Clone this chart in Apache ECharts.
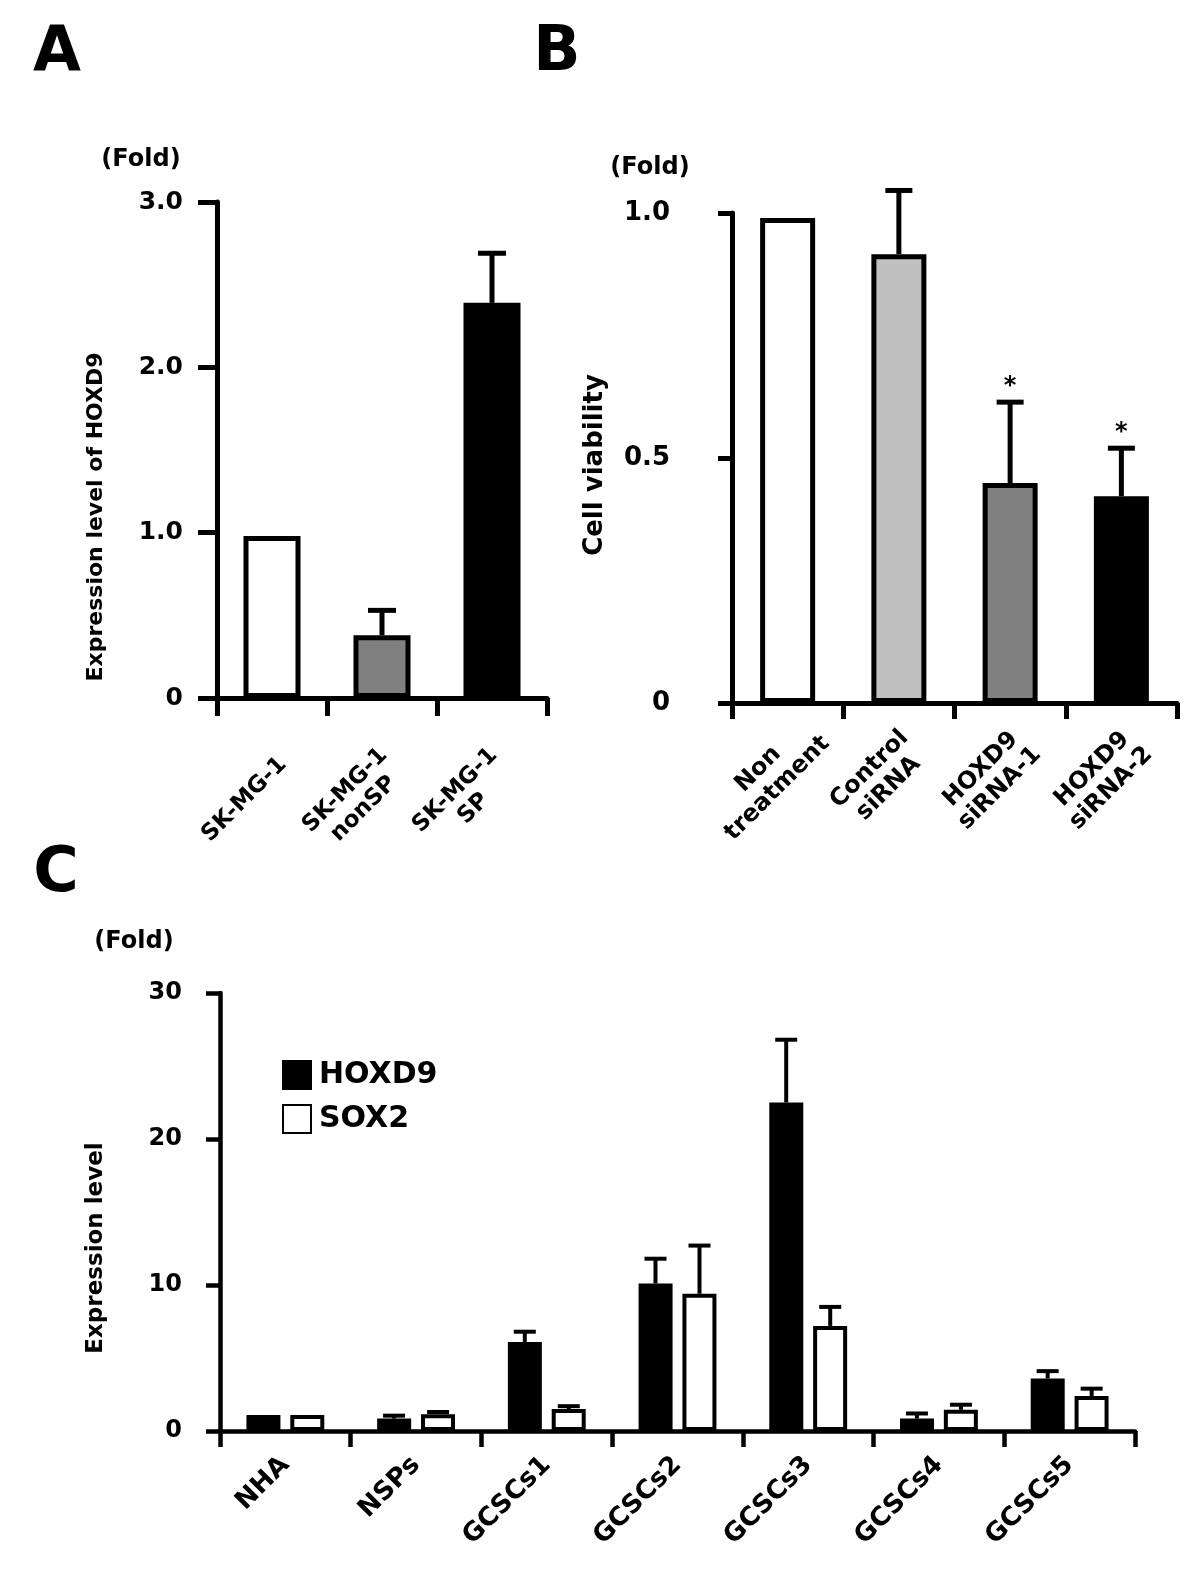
<!DOCTYPE html>
<html>
<head>
<meta charset="utf-8">
<script src="https://cdn.jsdelivr.net/npm/echarts@6/dist/echarts.min.js"></script>
<style>
  html, body { margin: 0; padding: 0; background: #fff; }
  #chart { width: 1200px; height: 1581px; }
</style>
</head>
<body>
<div id="chart"></div>
<script>
// Panel A
const catsA = ['SK-MG-1', 'SK-MG-1\nnonSP', 'SK-MG-1\nSP'];
const valsA = [0.98, 0.38, 2.39];
const errA = [0, 0.15, 0.30];
const colorsA = ['#ffffff', '#808080', '#000000'];
const ticksA = ['0', '1.0', '2.0', '3.0'];

// Panel B
const catsB = ['Non\ntreatment', 'Control\nsiRNA', 'HOXD9\nsiRNA-1', 'HOXD9\nsiRNA-2'];
const valsB = [0.99, 0.916, 0.449, 0.422];
const errB = [0, 0.13, 0.165, 0.098];
const colorsB = ['#ffffff', '#c0c0c0', '#808080', '#000000'];
const sigB = ['', '', '*', '*'];
const ticksB = ['0', '0.5', '1.0'];

// Panel C
const catsC = ['NHA', 'NSPs', 'GCSCs1', 'GCSCs2', 'GCSCs3', 'GCSCs4', 'GCSCs5'];
const hoxd9 = [1.1, 0.85, 6.1, 10.1, 22.5, 0.85, 3.6];
const hoxd9Sd = [0, 0.2, 0.7, 1.7, 4.3, 0.35, 0.5];
const sox2 = [1.1, 1.15, 1.5, 9.4, 7.2, 1.45, 2.4];
const sox2Sd = [0, 0.15, 0.2, 3.3, 1.3, 0.35, 0.5];
const ticksC = ['0', '10', '20', '30'];

const FONT = 'DejaVu Sans';

function errSeries(axis, vals, errs, opts) {
  const data = [];
  vals.forEach((v, i) => { if (errs[i] > 0) data.push([i, v, v + errs[i], (opts.sig && opts.sig[i]) || '']); });
  return {
    type: 'custom',
    xAxisIndex: axis, yAxisIndex: axis,
    z: 5,
    encode: { x: 0, y: [1, 2] },
    data: data,
    renderItem: function (params, api) {
      const i = api.value(0);
      const lo = api.coord([i, api.value(1)]);
      const hi = api.coord([i, api.value(2)]);
      const x = lo[0] + (opts.dx || 0);
      const st = { stroke: '#000', lineWidth: opts.lw };
      const kids = [
        { type: 'line', shape: { x1: x, y1: lo[1], x2: x, y2: hi[1] }, style: st },
        { type: 'line', shape: { x1: x - opts.cap / 2, y1: hi[1], x2: x + opts.cap / 2, y2: hi[1] }, style: st }
      ];
      const s = api.value(3);
      if (s) {
        kids.push({ type: 'text', x: x, y: hi[1] - 15,
          style: { text: s, fill: '#000', fontSize: 24, fontWeight: 'bold', fontFamily: FONT, align: 'center', verticalAlign: 'middle' } });
      }
      return { type: 'group', children: kids };
    }
  };
}

function catAxis(grid, cats, tickLen, lw, label) {
  return {
    type: 'category', gridIndex: grid, data: cats,
    axisLine: { lineStyle: { color: '#000', width: lw } },
    axisTick: { show: true, interval: 0, alignWithLabel: false, length: tickLen, lineStyle: { color: '#000', width: lw } },
    axisLabel: Object.assign({ interval: 0, rotate: 45, color: '#000', fontFamily: FONT, fontWeight: 'bold' }, label)
  };
}

function valAxis(grid, max, step, ticks, tickLen, lw, fs, margin) {
  return {
    type: 'value', gridIndex: grid, min: 0, max: max, interval: step,
    axisLine: { show: true, lineStyle: { color: '#000', width: lw } },
    axisTick: { show: true, length: tickLen, lineStyle: { color: '#000', width: lw } },
    splitLine: { show: false },
    axisLabel: {
      margin: margin, color: '#000', fontSize: fs, fontWeight: 'bold', fontFamily: FONT,
      formatter: v => ticks[Math.round(v / step)]
    }
  };
}

function txt(x, y, text, size, rot) {
  return {
    type: 'text', x: x, y: y, rotation: rot || 0,
    style: { text: text, fill: '#000', fontSize: size, fontWeight: 'bold', fontFamily: FONT, align: 'center', verticalAlign: 'middle' }
  };
}

const chart = echarts.init(document.getElementById('chart'));
chart.setOption({
  backgroundColor: '#fff',
  animation: false,
  grid: [
    { left: 217, top: 202, width: 330, height: 496 },
    { left: 732, top: 213, width: 445, height: 490 },
    { left: 220, top: 993, width: 915, height: 438 }
  ],
  xAxis: [
    catAxis(0, catsA, 18, 5, { fontSize: 23, lineHeight: 26, align: 'center', verticalAlign: 'middle', margin: 74, padding: [0, 78, 0, 0] }),
    catAxis(1, catsB, 16, 5, { fontSize: 24, lineHeight: 27, align: 'center', verticalAlign: 'middle', margin: 56, padding: [0, 56, 0, 0] }),
    catAxis(2, catsC, 16, 4.5, { fontSize: 26, margin: 30 })
  ],
  yAxis: [
    valAxis(0, 3, 1, ticksA, 19, 5, 25, 34),
    valAxis(1, 1, 0.5, ticksB, 14, 5, 26, 62),
    valAxis(2, 30, 10, ticksC, 14, 4.5, 24, 38)
  ],
  legend: {
    orient: 'vertical', left: 277, top: 1055, itemWidth: 28, itemHeight: 28, itemGap: 14,
    icon: 'rect', data: ['HOXD9', 'SOX2'],
    textStyle: { fontSize: 30, fontWeight: 'bold', fontFamily: FONT, color: '#000', padding: [0, 0, 0, 3] }
  },
  series: [
    {
      type: 'bar', xAxisIndex: 0, yAxisIndex: 0, barWidth: 57,
      itemStyle: { borderColor: '#000', borderWidth: 5 },
      data: valsA.map((v, i) => ({ value: v, itemStyle: { color: colorsA[i] } }))
    },
    errSeries(0, valsA, errA, { lw: 5, cap: 28 }),
    {
      type: 'bar', xAxisIndex: 1, yAxisIndex: 1, barWidth: 55,
      itemStyle: { borderColor: '#000', borderWidth: 5 },
      data: valsB.map((v, i) => ({ value: v, itemStyle: { color: colorsB[i] } }))
    },
    errSeries(1, valsB, errB, { lw: 5, cap: 27, sig: sigB }),
    {
      name: 'HOXD9', type: 'bar', xAxisIndex: 2, yAxisIndex: 2, barWidth: 34, barGap: '29%',
      itemStyle: { color: '#000', borderColor: '#000', borderWidth: 4 },
      data: hoxd9
    },
    {
      name: 'SOX2', type: 'bar', xAxisIndex: 2, yAxisIndex: 2, barWidth: 34, barGap: '29%',
      itemStyle: { color: '#fff', borderColor: '#000', borderWidth: 4 },
      data: sox2
    },
    errSeries(2, hoxd9, hoxd9Sd, { lw: 4, cap: 22, dx: -22 }),
    errSeries(2, sox2, sox2Sd, { lw: 4, cap: 22, dx: 22 })
  ],
  graphic: [
    txt(57, 54, 'A', 62),
    txt(557, 54, 'B', 62),
    txt(56, 875, 'C', 62),
    txt(141, 160, '(Fold)', 24),
    txt(650, 168, '(Fold)', 24),
    txt(134, 942, '(Fold)', 24),
    txt(96, 517, 'Expression level of HOXD9', 22, Math.PI / 2),
    txt(595, 465, 'Cell viability', 26, Math.PI / 2),
    txt(96, 1248, 'Expression level', 23, Math.PI / 2)
  ]
});
</script>
</body>
</html>
